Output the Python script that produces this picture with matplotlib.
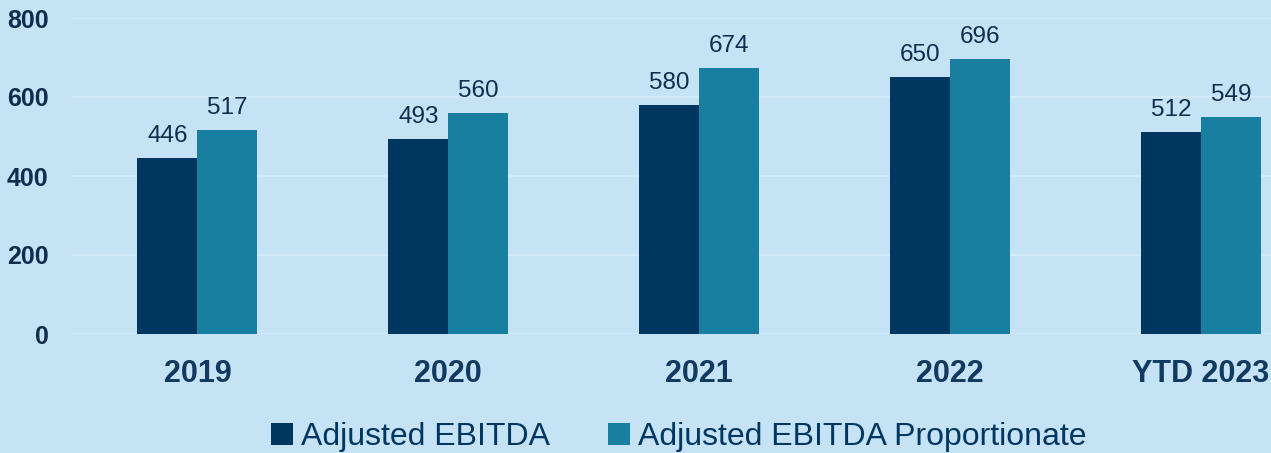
import matplotlib.pyplot as plt
import numpy as np

# data
years = ["2019", "2020", "2021", "2022", "YTD 2023"]
adj_ebitda = [446, 493, 580, 650, 512]
adj_ebitda_prop = [517, 560, 674, 696, 549]
yticks = [0, 200, 400, 600, 800]

bg = "#C5E3F4"
dark = "#003761"
teal = "#187FA0"
txt = "#0E2D4F"

plt.rcParams["font.family"] = ["Liberation Sans", "DejaVu Sans"]

fig = plt.figure(figsize=(12.71, 4.53), dpi=100, facecolor=bg)
ax = fig.add_axes([72 / 1271, 1 - 334 / 453, 1 - 72 / 1271, (334 - 18) / 453])
ax.set_facecolor(bg)

x = np.arange(len(years))
w = 0.239
b1 = ax.bar(x - w / 2, adj_ebitda, w, color=dark, label="Adjusted EBITDA", zorder=3)
b2 = ax.bar(x + w / 2, adj_ebitda_prop, w, color=teal, label="Adjusted EBITDA Proportionate", zorder=3)

for bars in (b1, b2):
    for r in bars:
        ax.annotate(f"{r.get_height():.0f}", (r.get_x() + r.get_width() / 2, r.get_height()),
                    xytext=(0, 8), textcoords="offset points", ha="center", va="bottom",
                    fontsize=17.5, color=txt)

ax.set_xlim(-0.5, (1271 - 197) / 251)
ax.set_ylim(0, 800)
ax.set_yticks(yticks)
ax.set_yticklabels([str(v) for v in yticks], fontsize=18, fontweight="bold", color=txt)
ax.set_xticks(x)
ax.set_xticklabels(years, fontsize=22, fontweight="bold", color="#103A60")
ax.tick_params(axis="both", length=0)
ax.tick_params(axis="x", pad=18)
ax.tick_params(axis="y", pad=17)
ax.grid(axis="y", color="#D2EAF8", linewidth=1.5, zorder=0)
for s in ax.spines.values():
    s.set_visible(False)

leg = fig.legend(handles=[b1, b2], loc="center", bbox_to_anchor=(0.534, 1 - 437 / 453), ncol=2,
                 frameon=False, fontsize=23, handlelength=0.7, handleheight=0.7,
                 handletextpad=0.25, columnspacing=1.8)
for t in leg.get_texts():
    t.set_color(dark)

fig.savefig("out.png", dpi=100, facecolor=bg)
